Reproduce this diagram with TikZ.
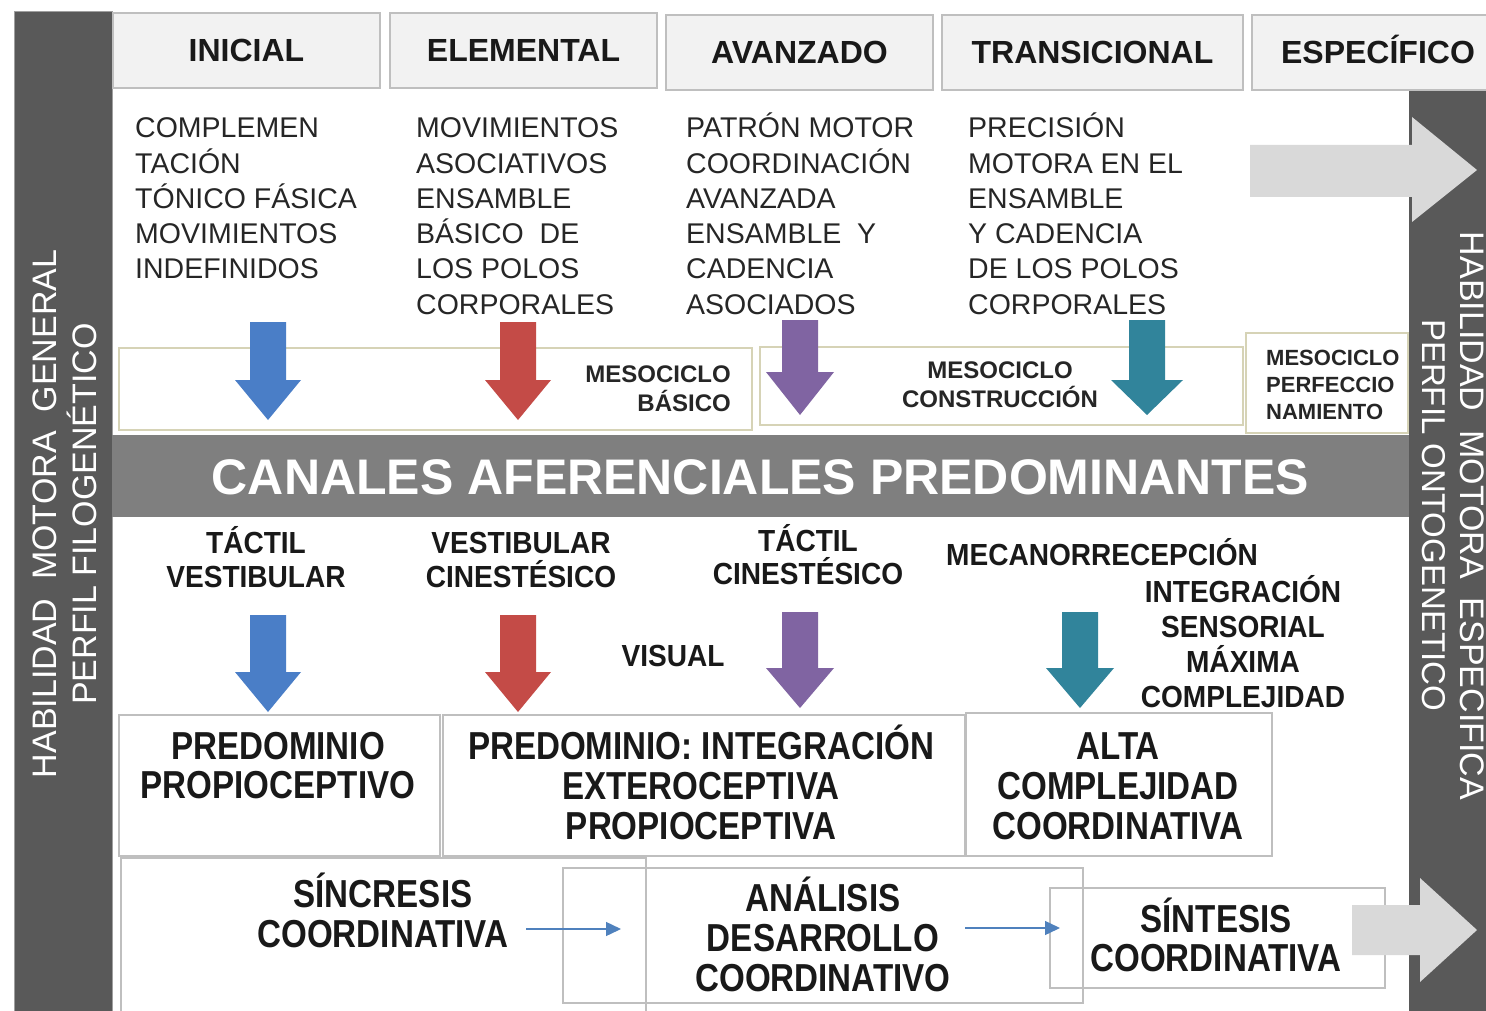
\documentclass[tikz,border=0pt]{standalone}
\usepackage{fontspec}
\setmainfont{Liberation Sans}
\newfontfamily\cndA{Liberation Sans}[FakeStretch=0.85]
\newfontfamily\cndB{Liberation Sans}[FakeStretch=0.92]
\usetikzlibrary{arrows.meta}
\definecolor{darkbar}{HTML}{595959}
\definecolor{midbar}{HTML}{7F7F7F}
\definecolor{hdrfill}{HTML}{F2F2F2}
\definecolor{hdrline}{HTML}{BFBFBF}
\definecolor{mesoline}{HTML}{D6D3B6}
\definecolor{arrblue}{HTML}{4A7EC7}
\definecolor{arrred}{HTML}{C44B47}
\definecolor{arrpurple}{HTML}{8064A2}
\definecolor{arrteal}{HTML}{31849B}
\definecolor{lightarrow}{HTML}{D9D9D9}
\definecolor{smallblue}{HTML}{4F81BD}
\definecolor{txtgray}{HTML}{262626}
\newcommand{\blockdn}[7]{\fill[#7] ({#1-#5},#2) -- ({#1+#5},#2) -- ({#1+#5},#3) -- ({#1+#6},#3) -- (#1,#4) -- ({#1-#6},#3) -- ({#1-#5},#3) -- cycle;}
\begin{document}
\begin{tikzpicture}[x=1pt,y=-1pt,
  hdr/.style={draw=hdrline, line width=1.5pt, fill=hdrfill, inner sep=0pt, text=black!90, font=\bfseries\fontsize{32}{32}\selectfont, text height=23pt, text depth=0pt},
  coltext/.style={anchor=base west, inner sep=0pt, text=txtgray, font=\fontsize{28.5}{28.5}\selectfont},
  mesobox/.style={draw=mesoline, line width=1.5pt, fill=white, inner sep=0pt},
  mesotext/.style={inner sep=0pt, text=black!85, font=\bfseries\fontsize{24}{24}\selectfont},
  lab/.style={inner sep=0pt, anchor=base, text=black!90, font=\cndB\bfseries\fontsize{30.5}{30.5}\selectfont},
  big/.style={inner sep=0pt, anchor=base, text=black!90, font=\cndA\bfseries\fontsize{39}{39}\selectfont},
  gbox/.style={draw=hdrline, line width=1.5pt, inner sep=0pt},
  bartext/.style={inner sep=0pt, anchor=base, text=white, font=\fontsize{34}{34}\selectfont},
  smallarr/.style={draw=smallblue, line width=1.4pt, -{Triangle[length=15pt,width=14pt]}}
]
\useasboundingbox (0,0) rectangle (1486,1011);
\clip (0,0) rectangle (1486,1011);
\fill[white] (0,0) rectangle (1486,1011);

% side bars
\fill[darkbar, draw=gray!75, line width=1pt] (14,12) rectangle (112,1015);
\fill[darkbar] (1409,90) rectangle (1490,1015);

% header boxes
\node[hdr, minimum width=267pt, minimum height=75pt] (h1) at (246.5,50.5) {INICIAL};
\node[hdr, minimum width=267pt, minimum height=75pt] (h2) at (523.5,50.5) {ELEMENTAL};
\node[hdr, minimum width=267pt, minimum height=75pt] (h3) at (799.5,52.5) {AVANZADO};
\node[hdr, minimum width=301pt, minimum height=75pt] (h4) at (1092.5,52.5) {TRANSICIONAL};
\node[hdr, minimum width=252pt, minimum height=75pt] (h5) at (1378,52.5) {ESPECÍFICO};

% column texts
\foreach \t [count=\i] in {COMPLEMEN,TACIÓN,TÓNICO FÁSICA,MOVIMIENTOS,INDEFINIDOS}
  \node[coltext] (ini-\i) at (135,{138+35.2*(\i-1)}) {\t};
\foreach \t [count=\i] in {MOVIMIENTOS,ASOCIATIVOS,ENSAMBLE,BÁSICO\ \ DE,LOS POLOS,CORPORALES}
  \node[coltext] (ele-\i) at (416,{138+35.2*(\i-1)}) {\t};
\foreach \t [count=\i] in {PATRÓN MOTOR,COORDINACIÓN,AVANZADA,ENSAMBLE\ \ Y,CADENCIA,ASOCIADOS}
  \node[coltext] (ava-\i) at (686,{138+35.2*(\i-1)}) {\t};
\foreach \t [count=\i] in {PRECISIÓN,MOTORA EN EL,ENSAMBLE,Y CADENCIA,DE LOS POLOS,CORPORALES}
  \node[coltext] (tra-\i) at (968,{138+35.2*(\i-1)}) {\t};

% mesociclo boxes
\node[mesobox, minimum width=633pt, minimum height=82pt] (m1) at (435.5,389) {};
\node[mesobox, minimum width=483pt, minimum height=78pt] (m2) at (1001.5,386) {};
\node[mesobox, minimum width=162pt, minimum height=100pt] (m3) at (1327,383) {};
\node[mesotext, anchor=base east] (m1a) at (731,382) {MESOCICLO};
\node[mesotext, anchor=base east] (m1b) at (731,411) {BÁSICO};
\node[mesotext, anchor=base] (m2a) at (1000,378) {MESOCICLO};
\node[mesotext, anchor=base] (m2b) at (1000,407) {CONSTRUCCIÓN};
\node[mesotext, anchor=base west, font=\bfseries\fontsize{22}{22}\selectfont] (m3a) at (1266,365) {MESOCICLO};
\node[mesotext, anchor=base west, font=\bfseries\fontsize{22}{22}\selectfont] (m3b) at (1266,392) {PERFECCIO};
\node[mesotext, anchor=base west, font=\bfseries\fontsize{22}{22}\selectfont] (m3c) at (1266,419) {NAMIENTO};

% row 1 arrows
\blockdn{268}{322}{380}{420}{18}{33}{arrblue}
\blockdn{518}{322}{380}{420}{18}{33}{arrred}
\blockdn{800}{320}{372}{415}{18}{34}{arrpurple}
\blockdn{1147}{320}{380}{415}{18}{36}{arrteal}

% canales bar
\node[fill=midbar, inner sep=0pt, minimum width=1297pt, minimum height=82pt, text=white, font=\bfseries\fontsize{50}{50}\selectfont, text height=36pt, text depth=0pt] (canales) at (760.5,476) {CANALES AFERENCIALES PREDOMINANTES};

% row 2 labels
\node[lab] (l1a) at (256,553) {TÁCTIL};
\node[lab] (l1b) at (256,587) {VESTIBULAR};
\node[lab] (l2a) at (521,553) {VESTIBULAR};
\node[lab] (l2b) at (521,587) {CINESTÉSICO};
\node[lab] (l3a) at (808,551) {TÁCTIL};
\node[lab] (l3b) at (808,584) {CINESTÉSICO};
\node[lab, anchor=base west] (l4) at (946,565) {MECANORRECEPCIÓN};
\node[lab] (l5a) at (1243,602) {INTEGRACIÓN};
\node[lab] (l5b) at (1243,637) {SENSORIAL};
\node[lab] (l5c) at (1243,672) {MÁXIMA};
\node[lab] (l5d) at (1243,707) {COMPLEJIDAD};
\node[lab] (vis) at (673,666) {VISUAL};

% row 2 arrows
\blockdn{268}{615}{672}{712}{18}{33}{arrblue}
\blockdn{518}{615}{672}{712}{18}{33}{arrred}
\blockdn{800}{612}{668}{708}{18}{34}{arrpurple}
\blockdn{1080}{612}{668}{708}{18}{34}{arrteal}

% row 3 boxes
\node[gbox, minimum width=321pt, minimum height=141pt] (b1) at (279.5,785.5) {};
\node[gbox, minimum width=522pt, minimum height=141pt] (b2) at (704,785.5) {};
\node[gbox, minimum width=306pt, minimum height=143pt] (b3) at (1119,784.5) {};
\node[big] (b1a) at (278,759) {PREDOMINIO};
\node[big] (b1b) at (278,798) {PROPIOCEPTIVO};
\node[big] (b2a) at (701,759) {PREDOMINIO: INTEGRACIÓN};
\node[big] (b2b) at (701,799) {EXTEROCEPTIVA};
\node[big] (b2c) at (701,839) {PROPIOCEPTIVA};
\node[big] (b3a) at (1118,759) {ALTA};
\node[big] (b3b) at (1118,799) {COMPLEJIDAD};
\node[big] (b3c) at (1118,839) {COORDINATIVA};

% row 4 boxes
\node[gbox, minimum width=525pt, minimum height=162pt] (c1) at (383.5,939) {};
\node[gbox, minimum width=520pt, minimum height=135pt] (c2) at (823,935.5) {};
\node[gbox, minimum width=335pt, minimum height=100pt] (c3) at (1217.5,938) {};
\node[big] (c1a) at (383,907) {SÍNCRESIS};
\node[big] (c1b) at (383,947) {COORDINATIVA};
\node[big] (c2a) at (823,911) {ANÁLISIS};
\node[big] (c2b) at (823,951) {DESARROLLO};
\node[big] (c2c) at (823,991) {COORDINATIVO};
\node[big] (c3a) at (1216,932) {SÍNTESIS};
\node[big] (c3b) at (1216,971) {COORDINATIVA};

% small arrows
\coordinate (sa1) at (526,929);
\coordinate (sa2) at (621,929);
\coordinate (sb1) at (965,928);
\coordinate (sb2) at (1060,928);
\draw[smallarr] (sa1) -- (sa2);
\draw[smallarr] (sb1) -- (sb2);

% big grey arrows
\fill[lightarrow] (1250,145) -- (1412,145) -- (1412,117) -- (1477,170) -- (1412,222) -- (1412,197) -- (1250,197) -- cycle;
\fill[lightarrow] (1352,905) -- (1420,905) -- (1420,878) -- (1477,930) -- (1420,982) -- (1420,955) -- (1352,955) -- cycle;

% bar texts
\node[bartext, rotate=90] (lb1) at (56,514) {HABILIDAD\ \ MOTORA\ \ GENERAL};
\node[bartext, rotate=90] (lb2) at (96,514) {PERFIL FILOGENÉTICO};
\node[bartext, rotate=-90] (rb1) at (1460,516) {HABILIDAD\ \ MOTORA\ \ ESPECIFICA};
\node[bartext, rotate=-90, font=\fontsize{33}{33}\selectfont] (rb2) at (1422,515) {PERFIL ONTOGENETICO};
\end{tikzpicture}
\end{document}
